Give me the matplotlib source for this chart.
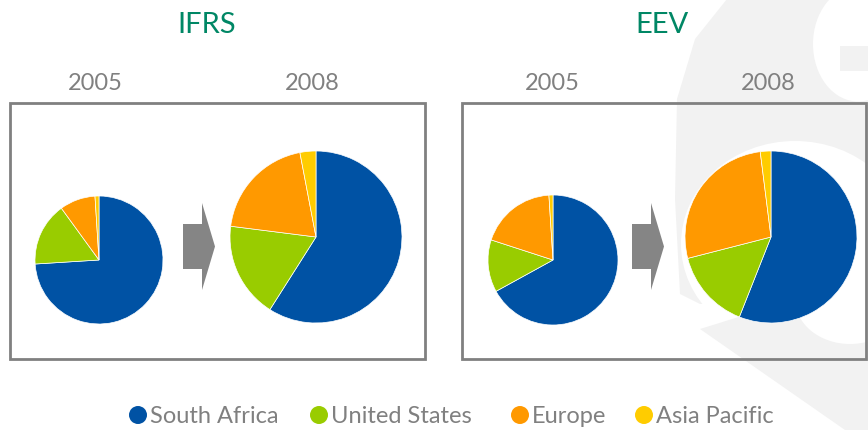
import numpy as np
import matplotlib.pyplot as plt
from matplotlib.patches import Rectangle, Polygon, Circle, Ellipse

W, H = 868, 431

# ---- data (shares, %) ----
regions = ["South Africa", "United States", "Europe", "Asia Pacific"]
colors = ["#0052A4", "#99CC00", "#FF9900", "#FFCC00"]
ifrs_2005 = [74, 16, 9, 1]
ifrs_2008 = [59, 18, 20, 3]
eev_2005 = [67, 13, 19, 1]
eev_2008 = [56, 15, 27, 2]
years = ["2005", "2008"]
groups = ["IFRS", "EEV"]

plt.rcParams["font.family"] = ["Lato", "DejaVu Sans"]
GRAY = "#808080"
TITLE = "#008765"
WM = "#F2F2F2"

fig = plt.figure(figsize=(W / 100, H / 100), dpi=100)
ax = fig.add_axes([0, 0, 1, 1])


def Y(y):
    # pixel y (top-down) -> data y (bottom-up)
    return H - y


# ---- watermark (light logo in the background) ----
ax.add_patch(Polygon([(727, Y(0)), (868, Y(0)), (868, Y(305)), (700, Y(305)),
                      (680, Y(295)), (675, Y(200)), (677, Y(100)), (695, Y(40))],
                     closed=True, fc=WM, ec="none", zorder=0))
ax.add_patch(Ellipse((795, Y(245)), 228, 206, fc="white", ec="none", zorder=0))
ax.add_patch(Ellipse((858, Y(45)), 90, 115, fc="white", ec="none", zorder=0))
ax.add_patch(Rectangle((840, Y(72)), 30, 25, fc=WM, ec="none", zorder=0))
ax.add_patch(Polygon([(700, Y(330)), (745, Y(316)), (800, Y(318)), (868, Y(335)),
                      (868, Y(431)), (845, Y(431))],
                     closed=True, fc=WM, ec="none", zorder=0))
ax.add_patch(Ellipse((850, Y(300)), 110, 90, fc="white", ec="none", zorder=0))

# ---- boxes ----
ax.add_patch(Rectangle((10, Y(360)), 415, 256, fc="white", ec=GRAY, lw=2, zorder=1))
ax.add_patch(Rectangle((462, Y(360)), 404, 256, fc="none", ec=GRAY, lw=2, zorder=1))

# ---- pies ----
pies = [(ifrs_2005, 99, 261, 64), (ifrs_2008, 316, 238, 86),
        (eev_2005, 553, 261, 65), (eev_2008, 771, 238, 86)]
for vals, cx, cy, r in pies:
    ax.pie(vals, colors=colors, center=(cx, Y(cy)), radius=r, startangle=90,
           counterclock=False, wedgeprops=dict(lw=0.5, ec="white"))

# ---- arrows ----
for x0 in [183, 632]:
    pts = [(x0, 225), (x0 + 19, 225), (x0 + 19, 204), (x0 + 32, 247.5),
           (x0 + 19, 291), (x0 + 19, 270), (x0, 270)]
    ax.add_patch(Polygon([(px, Y(py)) for px, py in pts], closed=True,
                         fc="#858585", ec="none", zorder=3))

# ---- titles & year labels ----
for g, gx in zip(groups, [207, 662]):
    ax.text(gx, Y(25), g, color=TITLE, fontsize=21, ha="center", va="center")
for yx, yr in zip([95, 312, 552, 768], years * 2):
    ax.text(yx, Y(83), yr, color=GRAY, fontsize=17, ha="center", va="center")

# ---- legend ----
dot_x = [138, 319, 520, 644]
for name, col, dx in zip(regions, colors, dot_x):
    ax.add_patch(Circle((dx, Y(416)), 9, fc=col, ec="none", zorder=3))
    ax.text(dx + 12, Y(417), name, color=GRAY, fontsize=17, ha="left", va="center")

ax.set_xlim(0, W)
ax.set_ylim(0, H)
ax.set_aspect("auto")
ax.axis("off")
fig.savefig("out.png", dpi=100, facecolor="white")
